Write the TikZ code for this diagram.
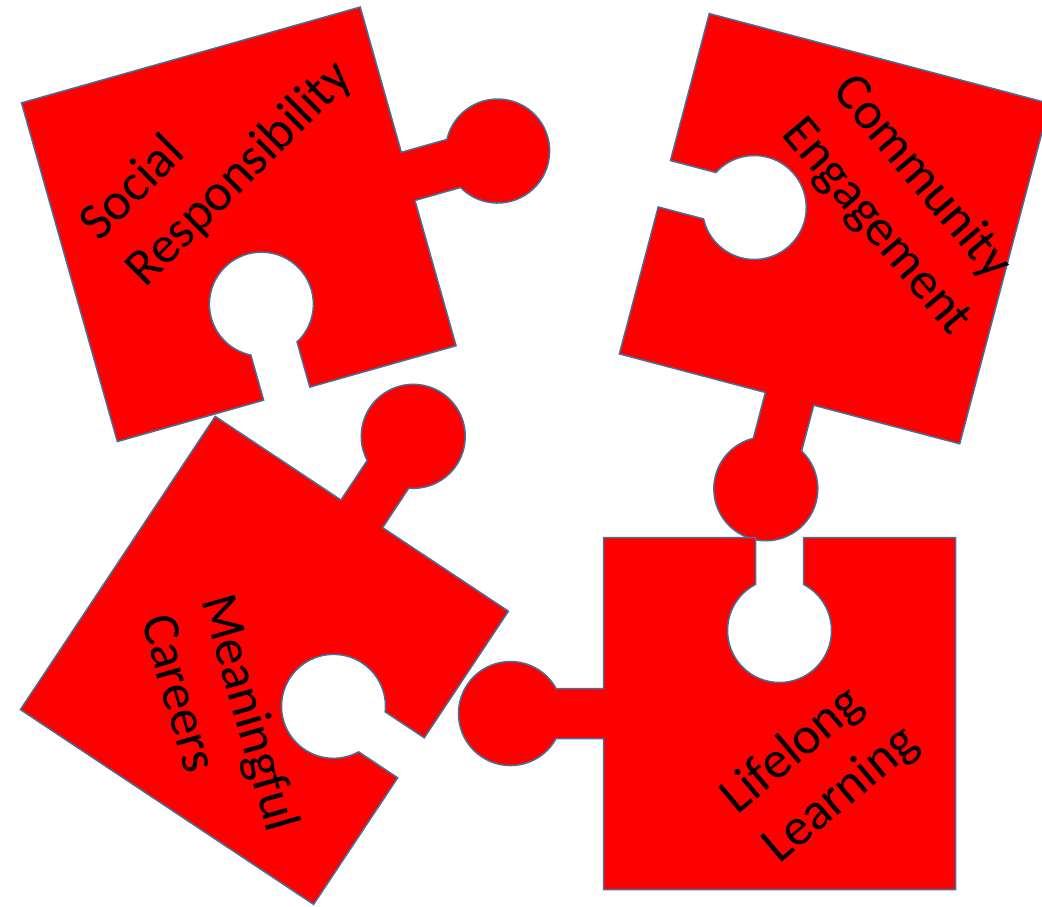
\documentclass[tikz,border=0pt]{standalone}
\usepackage{fontspec}
\setmainfont{Carlito}
\definecolor{pfill}{HTML}{FF0000}
\definecolor{pline}{HTML}{41719C}
\newcommand\puzzleoutline{(-176,176) -- (-24,176) -- (-24,129.1)
      arc[start angle=117.5, end angle=422.5, radius=52] -- (24,176)
      -- (176,176) -- (176,-176) -- (-176,-176) -- (-176,-25) -- (-223.4,-25)
      arc[start angle=-28.7, end angle=-331.3, radius=52] -- (-176,25) -- cycle}
\begin{document}
\begin{tikzpicture}[x=1pt,y=1pt,
  piece/.style={fill=pfill, draw=pline, line width=1.5pt, line join=miter},
  lbl/.style={font=\fontsize{52.5}{63}\selectfont, text=black, inner sep=0pt, anchor=base west, transform shape}]
\useasboundingbox (0,0) rectangle (1042,-907);
\clip (0,0) rectangle (1042,-907);
% pieces
\begin{scope}[shift={(238.8,-224.3)}, rotate=-164.2] \path[piece] \puzzleoutline; \end{scope}
\begin{scope}[shift={(834.5,-228.7)}, rotate=75.2] \path[piece] \puzzleoutline; \end{scope}
\begin{scope}[shift={(264.4,-660.4)}, rotate=-123.6] \path[piece] \puzzleoutline; \end{scope}
\begin{scope}[shift={(779.5,-713.5)}, rotate=0] \path[piece] \puzzleoutline; \end{scope}
% labels
\begin{scope}[shift={(99.6,-242.3)}, rotate=45]
  \node[lbl] (soc1) at (0,0) {Social};
  \node[lbl] (soc2) at (0,-65) {Responsibility};
\end{scope}
\begin{scope}[shift={(831,-91.5)}, rotate=-50]
  \node[lbl] (com1) at (0,0) {Community};
  \node[lbl] (com2) at (0,-66) {Engagement};
\end{scope}
\begin{scope}[shift={(201,-600)}, rotate=-74]
  \node[lbl] (mea1) at (0,0) {Meaningful};
  \node[lbl] (mea2) at (3,-63) {Careers};
\end{scope}
\begin{scope}[shift={(737.6,-815.3)}, rotate=40]
  \node[lbl] (lif1) at (0,0) {Lifelong};
  \node[lbl] (lif2) at (0,-65) {Learning};
\end{scope}
\end{tikzpicture}
\end{document}
